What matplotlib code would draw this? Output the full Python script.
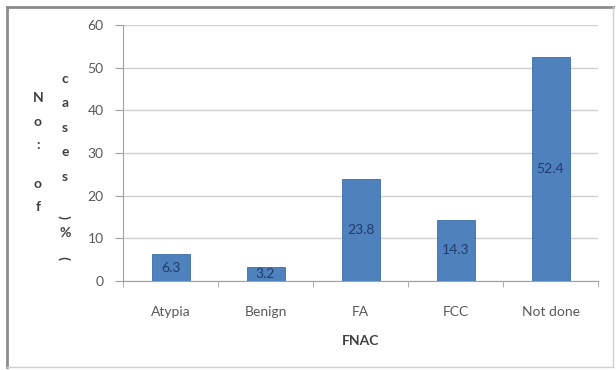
import matplotlib
matplotlib.use("Agg")
import matplotlib.pyplot as plt
from matplotlib.patches import Rectangle
from matplotlib.lines import Line2D

categories = ["Atypia", "Benign", "FA", "FCC", "Not done"]
values = [6.3, 3.2, 23.8, 14.3, 52.4]
value_labels = ["6.3", "3.2", "23.8", "14.3", "52.4"]
yticks = [0, 10, 20, 30, 40, 50, 60]
xlabel = "FNAC"
ylabel_col1 = ["N", "o", ":", "", "o", "f"]
ylabel_col2 = ["c", "a", "s", "e", "s", "", "(", "%", ")"]

W, H = 616, 370
fig = plt.figure(figsize=(W / 100, H / 100), dpi=100)
fig.patch.set_facecolor("white")
plt.rcParams['font.family'] = ['Lato', 'DejaVu Sans']

# axes position: x 123..598, y 25..281 (pixels from top)
left, right, top, bottom = 123, 598, 25, 281
ax = fig.add_axes([left / W, 1 - bottom / H, (right - left) / W, (bottom - top) / H])

bar_color = "#4F81BD"
x = list(range(len(categories)))
bars = ax.bar(x, values, width=0.4, color=bar_color, edgecolor="#3C6DA8", linewidth=0.6, zorder=3)
for xi, v, lab in zip(x, values, value_labels):
    ax.text(xi, v / 2, lab, ha="center", va="center", fontsize=10, color="#1F3C6E", zorder=4)

ax.set_xlim(-0.5, len(categories) - 0.5)
ax.set_ylim(0, 60)
ax.set_yticks(yticks)
ax.set_yticklabels([str(t) for t in yticks], fontsize=10, color="#595959")
ax.set_xticks(x)
ax.set_xticklabels(categories, fontsize=10, color="#595959")
ax.tick_params(axis="x", length=0, pad=18)
ax.tick_params(axis="y", length=6, color="#A0A0A0", pad=8)
ax.set_xticks([i + 0.5 for i in range(-1, len(categories))], minor=True)
ax.tick_params(axis="x", which="minor", length=4, color="#A0A0A0", direction="out")

ax.grid(axis="y", color="#D0D0D0", linewidth=1, zorder=0)
for s in ["top", "right"]:
    ax.spines[s].set_visible(False)
ax.spines["left"].set_color("#A0A0A0")
ax.spines["bottom"].set_color("#A0A0A0")

ax.set_xlabel(xlabel, fontsize=10, fontweight="bold", color="#404040", labelpad=12)

# stacked y-axis label columns
def stack(col, xpix, ystart, step):
    y = ystart
    for ch in col:
        if ch in "()":
            fig.text(xpix / W, 1 - y / H, ch, ha="center", va="center", fontsize=10,
                     fontweight="bold", color="#404040", rotation=90)
            y += step * 0.65
        else:
            if ch:
                fig.text(xpix / W, 1 - y / H, ch, ha="center", va="center", fontsize=10,
                         fontweight="bold", color="#404040")
            y += step

stack(ylabel_col1, 38, 98, 23.5)
stack(ylabel_col2, 65, 79, 24.5)

# outer border
fig.add_artist(Line2D([7 / W, 7 / W], [1 - 7 / H, 1 - 367 / H], color="#8C8C8C", linewidth=2, transform=fig.transFigure))
fig.add_artist(Line2D([7 / W, 613 / W], [1 - 7 / H, 1 - 7 / H], color="#8C8C8C", linewidth=2, transform=fig.transFigure))
fig.add_artist(Line2D([613 / W, 613 / W], [1 - 7 / H, 1 - 367 / H], color="#D0D0D0", linewidth=1, transform=fig.transFigure))
fig.add_artist(Line2D([7 / W, 613 / W], [1 - 367 / H, 1 - 367 / H], color="#D0D0D0", linewidth=1, transform=fig.transFigure))

fig.savefig("out.png", dpi=100, facecolor="white")
